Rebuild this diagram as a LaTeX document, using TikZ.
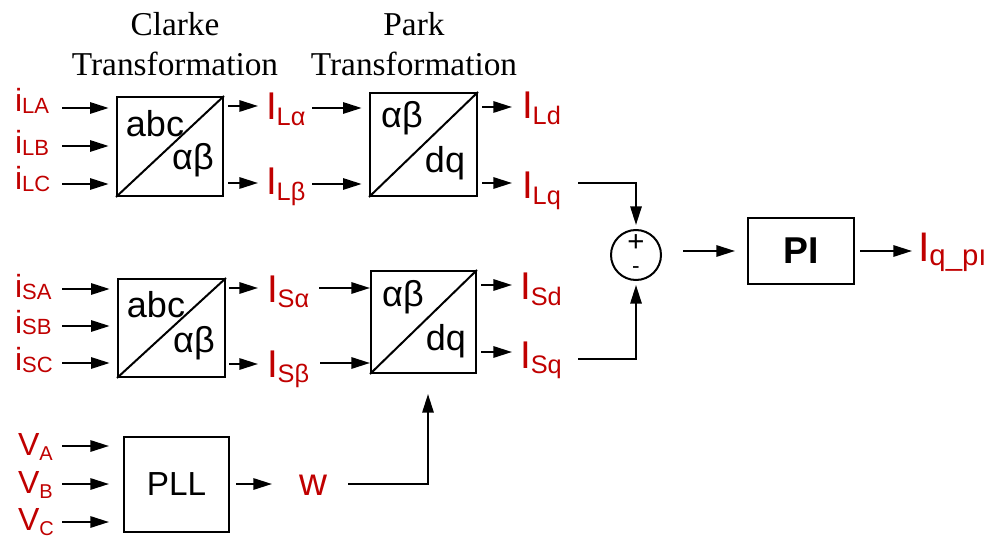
\documentclass[tikz,border=0pt]{standalone}
\usepackage{fontspec}
\setmainfont{Liberation Sans}
\newfontfamily\titlefont{Liberation Serif}
\usetikzlibrary{arrows.meta,calc}
\definecolor{lblred}{HTML}{C00000}
\newlength\pxu \setlength\pxu{0.75pt}
\newcommand\fs[1]{\fontsize{#1}{#1}\selectfont}
\newcommand\sublab[5]{{\fs{#3}#1}\raisebox{#5}{\fs{#4}#2}}
\begin{document}
\begin{tikzpicture}[x=0.75pt,y=-0.75pt,line width=1.5pt,
  arr/.style={-{Triangle[length=14pt,width=8.5pt]}},
  inarr/.style={arr,shorten >=5.5pt},
  blk/.style={draw,inner sep=0pt},
  blklbl/.style={inner sep=0pt,font=\fs{27}},
  rl/.style={text=lblred,inner sep=0pt,anchor=base west},
  ttl/.style={align=center,inner sep=0pt,font=\titlefont\fontsize{25}{30}\selectfont}]
\useasboundingbox (0,0) rectangle (999,538);

% titles
\node[ttl] (T1) at (175,44) {Clarke\\Transformation};
\node[ttl] (T2) at (414,44) {Park\\Transformation};

% blocks
\node[blk,minimum width=106\pxu,minimum height=99\pxu] (C1) at (170,146.5) {};
\node[blk,minimum width=107\pxu,minimum height=103\pxu] (P1) at (423.5,144.5) {};
\node[blk,minimum width=107\pxu,minimum height=98\pxu] (C2) at (171.5,328) {};
\node[blk,minimum width=105\pxu,minimum height=102\pxu] (P2) at (423.5,322) {};
\node[blk,minimum width=105\pxu,minimum height=95\pxu,font=\fs{25}] (PLL) at (176.5,484.5) {PLL};
\node[blk,minimum width=106\pxu,minimum height=66\pxu,font=\bfseries\fs{28}] (PI) at (801,251) {PI};
\node[draw,circle,minimum size=50\pxu,inner sep=0pt] (S) at (636,255) {};
\node[inner sep=0pt,font=\fs{22}] (Splus) at (636,243) {+};
\node[inner sep=0pt,font=\fs{17}] (Sminus) at (636,270) {-};

\foreach \b in {C1,P1,C2,P2} \draw (\b.south west) -- (\b.north east);

\node[blklbl] (C1a) at (155,124) {abc};
\node[blklbl] (C1b) at (193,160) {αβ};
\node[blklbl] (C2a) at (156,305) {abc};
\node[blklbl] (C2b) at (194,343) {αβ};
\node[blklbl] (P1a) at (402,118) {αβ};
\node[blklbl] (P1b) at (445,163) {dq};
\node[blklbl] (P2a) at (403,297) {αβ};
\node[blklbl] (P2b) at (446,341) {dq};

% red labels
\node[rl] (iLA) at (14,112) {\sublab{i}{LA}{24}{16.5}{-1.5pt}};
\node[rl] (iLB) at (14,154) {\sublab{i}{LB}{24}{16.5}{-1.5pt}};
\node[rl] (iLC) at (14,190) {\sublab{i}{LC}{24}{16.5}{-1.5pt}};
\node[rl] (iSA) at (14,297) {\sublab{i}{SA}{24}{16.5}{-1.5pt}};
\node[rl] (iSB) at (14,333) {\sublab{i}{SB}{24}{16.5}{-1.5pt}};
\node[rl] (iSC) at (14,370) {\sublab{i}{SC}{24}{16.5}{-1.5pt}};
\node[rl] (VA) at (17,455) {\sublab{V}{A}{24}{15}{-3.75pt}};
\node[rl] (VB) at (17,493) {\sublab{V}{B}{24}{15}{-3.75pt}};
\node[rl] (VC) at (17,530) {\sublab{V}{C}{24}{15}{-3.75pt}};
\node[rl] (ILa) at (265,120) {\sublab{I}{Lα}{29}{19}{-4pt}};
\node[rl] (ILb) at (265,195) {\sublab{I}{Lβ}{29}{19}{-4pt}};
\node[rl] (ILd) at (521,119) {\sublab{I}{Ld}{29}{19}{-4pt}};
\node[rl] (ILq) at (521,199) {\sublab{I}{Lq}{29}{19}{-4pt}};
\node[rl] (ISa) at (266,302) {\sublab{I}{Sα}{29}{19}{-4pt}};
\node[rl] (ISb) at (266,377) {\sublab{I}{Sβ}{29}{19}{-4pt}};
\node[rl] (ISd) at (519,300) {\sublab{I}{Sd}{29}{19}{-4pt}};
\node[rl] (ISq) at (519,368) {\sublab{I}{Sq}{29}{19}{-4pt}};
\node[rl,font=\fs{29}] (w) at (298,495) {w};
\node[rl] (Iq) at (917,262) {\sublab{I}{q\_pı}{31}{22}{-3pt}};

% coordinates for connector ends
\coordinate (a1) at (62,108); \coordinate (a2) at (62,146); \coordinate (a3) at (62,184);
\coordinate (b1) at (62,289); \coordinate (b2) at (62,326); \coordinate (b3) at (62,363);
\coordinate (v1) at (62,446); \coordinate (v2) at (62,484); \coordinate (v3) at (62,522);
\coordinate (c1o) at (228,106); \coordinate (c1e) at (258,106);
\coordinate (c2o) at (228,183); \coordinate (c2e) at (258,183);
\coordinate (d1) at (312,108); \coordinate (d2) at (312,184);
\coordinate (p1o) at (482,107); \coordinate (p1e) at (512,107);
\coordinate (p2o) at (482,183); \coordinate (p2e) at (512,183);
\coordinate (e1o) at (229,288); \coordinate (e1e) at (258,288);
\coordinate (e2o) at (229,364); \coordinate (e2e) at (258,364);
\coordinate (f1) at (319,288); \coordinate (f2) at (320,363);
\coordinate (g1o) at (481,285); \coordinate (g1e) at (512,285);
\coordinate (g2o) at (481,352); \coordinate (g2e) at (512,352);
\coordinate (hq) at (578,183); \coordinate (hs) at (578,359);
\coordinate (so) at (683,251); \coordinate (pie) at (735,251);
\coordinate (pio) at (860,251); \coordinate (qe) at (912,251);
\coordinate (pllo) at (236,484); \coordinate (plle) at (272,484);
\coordinate (ws) at (348,484); \coordinate (wc) at (428,484); \coordinate (wt) at (428,394);

% connectors
\foreach \c in {a1,a2,a3} \draw[inarr] (\c) -- (\c -| C1.west);
\foreach \c in {b1,b2,b3} \draw[inarr] (\c) -- (\c -| C2.west);
\foreach \c in {v1,v2,v3} \draw[arr] (\c) -- ($(\c -| PLL.west)+(-14,0)$);
\draw[arr] (c1o) -- (c1e);
\draw[arr] (c2o) -- (c2e);
\draw[inarr] (d1) -- (d1 -| P1.west);
\draw[inarr] (d2) -- (d2 -| P1.west);
\draw[arr] (p1o) -- (p1e);
\draw[arr] (p2o) -- (p2e);
\draw[arr] (e1o) -- (e1e);
\draw[arr] (e2o) -- (e2e);
\draw[arr] (f1) -- (f1 -| P2.west);
\draw[arr] (f2) -- (f2 -| P2.west);
\draw[arr] (g1o) -- (g1e);
\draw[arr] (g2o) -- (g2e);
\draw[arr] (hq) -| ($(S.north)+(0,-4)$);
\draw[arr] (hs) -| ($(S.south)+(0,4)$);
\draw[arr] (so) -- (pie);
\draw[arr] (pio) -- (qe);
\draw[arr] (pllo) -- (plle);
\draw[arr] (ws) -- (wc) -- (wt);
\end{tikzpicture}
\end{document}
